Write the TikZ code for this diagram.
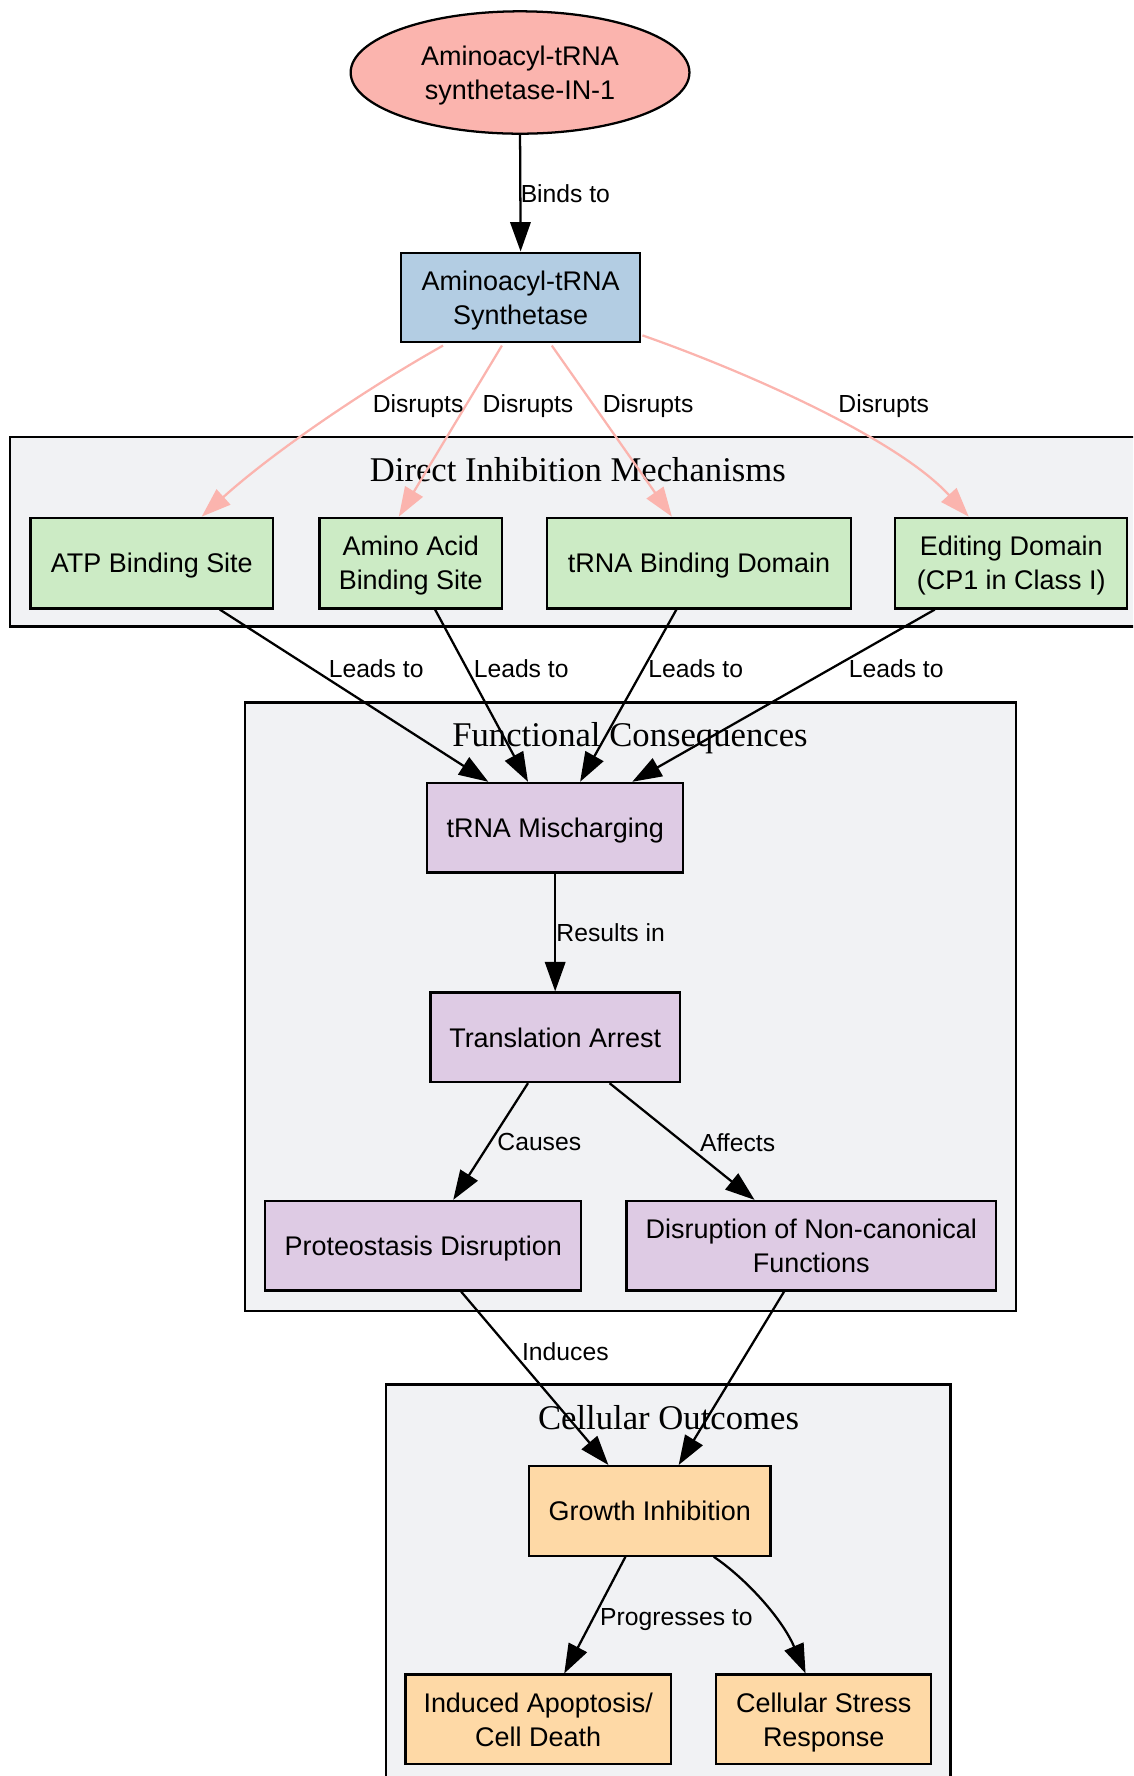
\documentclass[tikz,border=0pt]{standalone}
\usepackage{fontspec}
\setmainfont{Liberation Serif}
\setsansfont{Liberation Sans}
\usetikzlibrary{arrows.meta,calc,shapes.geometric}
\definecolor{cred}{HTML}{FBB4AE}
\definecolor{cblue}{HTML}{B3CDE3}
\definecolor{cgreen}{HTML}{CCEBC5}
\definecolor{cpurple}{HTML}{DECBE4}
\definecolor{corange}{HTML}{FED9A6}
\definecolor{cclus}{HTML}{F1F2F4}
\tikzset{
  box/.style={draw=black, line width=2pt, rectangle, inner sep=0pt, align=center, text depth=0pt,
    font=\fontsize{23.8}{30}\selectfont\sffamily},
  clus/.style={draw=black, line width=2pt, fill=cclus},
  ctitle/.style={font=\fontsize{30.6}{34}\selectfont\rmfamily, inner sep=0pt, text depth=0pt},
  elab/.style={font=\fontsize{21.8}{26}\selectfont\sffamily, inner sep=0pt, text depth=0pt},
  arr/.style={draw=black, line width=2pt, -{Triangle[length=26pt,width=18pt]}},
  parr/.style={draw=cred, line width=2pt, -{Triangle[length=26pt,width=18pt]}},
}
\begin{document}
\begin{tikzpicture}[x=1pt,y=-1pt]
\useasboundingbox (0,0) rectangle (1000,1567.5);
\clip (0,0) rectangle (1000,1567.5);
% clusters
\draw[clus] (9,386) rectangle (1012,553);
\draw[clus] (216,620) rectangle (897,1157);
\draw[clus] (341,1222) rectangle (839,1590);
\node[ctitle] (t1) at (510,414) {Direct Inhibition Mechanisms};
\node[ctitle] (t2) at (556,648) {Functional Consequences};
\node[ctitle] (t3) at (590,1251) {Cellular Outcomes};
% nodes
\node[box, ellipse, fill=cred, minimum width=299pt, minimum height=108pt] (inh) at (459,64) {Aminoacyl-tRNA\\synthetase-IN-1};
\node[box, fill=cblue, minimum width=211pt, minimum height=79pt] (syn) at (459.5,262.5) {Aminoacyl-tRNA\\Synthetase};
\node[box, fill=cgreen, minimum width=214pt, minimum height=80pt] (atp) at (134,497) {ATP Binding Site};
\node[box, fill=cgreen, minimum width=161pt, minimum height=80pt] (aa) at (362.5,497) {Amino Acid\\Binding Site};
\node[box, fill=cgreen, minimum width=268pt, minimum height=80pt] (tbd) at (617,497) {tRNA Binding Domain};
\node[box, fill=cgreen, minimum width=205pt, minimum height=80pt] (edit) at (892.5,497) {Editing Domain\\(CP1 in Class I)};
\node[box, fill=cpurple, minimum width=226pt, minimum height=79pt] (mis) at (490,730.5) {tRNA Mischarging};
\node[box, fill=cpurple, minimum width=220pt, minimum height=79pt] (ta) at (490,915.5) {Translation Arrest};
\node[box, fill=cpurple, minimum width=279pt, minimum height=79pt] (pd) at (373.5,1099.5) {Proteostasis Disruption};
\node[box, fill=cpurple, minimum width=326pt, minimum height=79pt] (nc) at (716,1099.5) {Disruption of Non-canonical\\Functions};
\node[box, fill=corange, minimum width=213pt, minimum height=79pt] (gi) at (573.5,1333.5) {Growth Inhibition};
\node[box, fill=corange, minimum width=234pt, minimum height=79pt] (ap) at (475,1517.5) {Induced Apoptosis/\\Cell Death};
\node[box, fill=corange, minimum width=190pt, minimum height=79pt] (cs) at (727,1517.5) {Cellular Stress\\Response};
% edges
\draw[arr] (inh.south) -- (syn.north);
\draw[parr] ($(syn.south)+(-68.5,2)$) .. controls (320,345) and (240,400) .. ($(atp.north)+(44,0)$);
\draw[parr] ($(syn.south)+(-16.5,2)$) -- ($(aa.north)+(-10.5,0)$);
\draw[parr] ($(syn.south)+(27.5,2)$) -- ($(tbd.north)+(-24,0)$);
\draw[parr] ($(syn.east)+(1,33.5)$) .. controls (650,325) and (790,385) .. ($(edit.north)+(-37.5,0)$);
\draw[arr] ($(atp.south)+(60,0)$) -- ($(mis.north)+(-59,0)$);
\draw[arr] ($(aa.south)+(21.5,0)$) -- ($(mis.north)+(-24,0)$);
\draw[arr] ($(tbd.south)+(-20,0)$) -- ($(mis.north)+(22,0)$);
\draw[arr] ($(edit.south)+(-67.5,0)$) -- ($(mis.north)+(68,0)$);
\draw[arr] (mis.south) -- (ta.north);
\draw[arr] ($(ta.south)+(-24,0)$) -- ($(pd.north)+(26.5,0)$);
\draw[arr] ($(ta.south)+(48,0)$) -- ($(nc.north)+(-50,0)$);
\draw[arr] ($(pd.south)+(33.5,0)$) -- ($(gi.north)+(-36.5,0)$);
\draw[arr] ($(nc.south)+(-24,0)$) -- ($(gi.north)+(25.5,0)$);
\draw[arr] ($(gi.south)+(-21.5,0)$) -- ($(ap.north)+(23,0)$);
\draw[arr] ($(gi.south)+(56.5,0)$) .. controls (658,1393) and (690,1428) .. ($(cs.north)+(-16,0)$);
% edge labels
\node[elab] (l1) at (499,171) {Binds to};
\node[elab] (l2) at (369,356) {Disrupts};
\node[elab] (l3) at (466,356) {Disrupts};
\node[elab] (l4) at (572,356) {Disrupts};
\node[elab] (l5) at (780,356) {Disrupts};
\node[elab] (l6) at (332,590) {Leads to};
\node[elab] (l7) at (460,590) {Leads to};
\node[elab] (l8) at (614,590) {Leads to};
\node[elab] (l9) at (791,590) {Leads to};
\node[elab] (l10) at (539,823) {Results in};
\node[elab] (l11) at (476,1008) {Causes};
\node[elab] (l12) at (651,1008) {Affects};
\node[elab] (l13) at (499,1193) {Induces};
\node[elab] (l14) at (597,1427) {Progresses to};
\end{tikzpicture}
\end{document}
